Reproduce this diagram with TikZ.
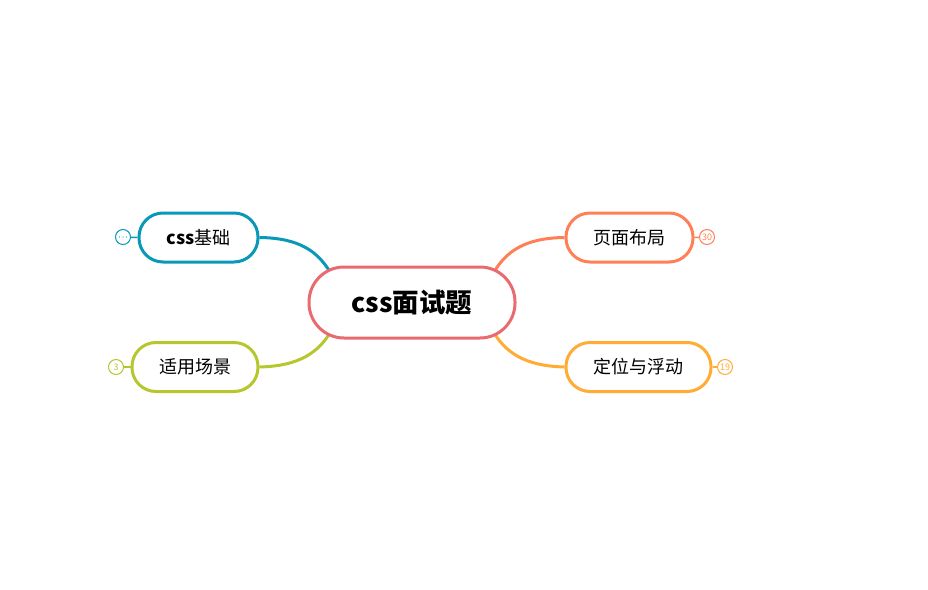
\documentclass[tikz,border=0pt]{standalone}
\usepackage{fontspec}
\setmainfont{Noto Sans CJK SC}
\begin{document}
\begin{tikzpicture}[x=1pt,y=-1pt]
\definecolor{cRoot}{HTML}{E96B70}
\definecolor{cBase}{HTML}{0A98B8}
\definecolor{cScene}{HTML}{B6C72E}
\definecolor{cLayout}{HTML}{FF8056}
\definecolor{cFloat}{HTML}{FFAB34}
\tikzset{
  rootbox/.style={draw=cRoot, line width=3pt, rounded corners=35pt, fill=white, minimum width=206pt, minimum height=71pt, inner sep=0pt, font=\fontsize{26.5}{30}\selectfont\bfseries},
  childbox/.style={draw=#1, line width=3pt, rounded corners=24pt, fill=white, minimum height=49pt, inner sep=0pt, font=\fontsize{18}{22}\selectfont},
  conn/.style={draw=#1, line width=3pt},
  marker/.style={draw=#1, circle, line width=1pt, minimum size=15pt, inner sep=0pt, fill=white, text=#1, font=\fontsize{9}{9}\selectfont},
  tick/.style={draw=#1, line width=1.5pt}
}
\useasboundingbox (0,0) rectangle (928,589);
\coordinate (rtl) at (330,272);
\coordinate (rtr) at (494,272);
\coordinate (rbl) at (330,333);
\coordinate (rbr) at (494,333);
\node[childbox=cBase, minimum width=119pt] (base) at (198.5,237.5) {\textbf{css}基础};
\node[childbox=cScene, minimum width=126pt] (scene) at (195,367) {适用场景};
\node[childbox=cLayout, minimum width=127pt] (layout) at (629.5,237.5) {页面布局};
\node[childbox=cFloat, minimum width=145pt] (float) at (638.5,367) {定位与浮动};
\draw[conn=cBase] (base.east) .. controls (300,238) and (318,252) .. (rtl);
\draw[conn=cScene] (scene.east) .. controls (300,366) and (318,352) .. (rbl);
\draw[conn=cLayout] (layout.west) .. controls (524,238) and (506,252) .. (rtr);
\draw[conn=cFloat] (float.west) .. controls (524,366) and (506,352) .. (rbr);
\node[rootbox] (root) at (412,302.5) {css面试题};
\node[marker=cBase] (mbase) at (123,237) {};
\fill[cBase] (mbase.center) ++(-3.5,0) circle (0.7) ++(3.5,0) circle (0.7) ++(3.5,0) circle (0.7);
\node[marker=cScene] (mscene) at (116,367) {3};
\node[marker=cLayout] (mlayout) at (707,237) {30};
\node[marker=cFloat] (mfloat) at (725,367) {19};
\draw[tick=cBase] (mbase) -- (base.west);
\draw[tick=cScene] (mscene) -- (scene.west);
\draw[tick=cLayout] (mlayout) -- (layout.east);
\draw[tick=cFloat] (mfloat) -- (float.east);
\end{tikzpicture}
\end{document}
